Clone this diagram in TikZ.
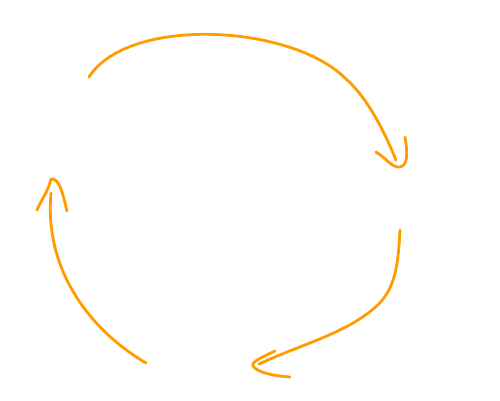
\documentclass[tikz,border=0pt]{standalone}
\usetikzlibrary{calc}
\definecolor{arcorange}{RGB}{255,157,0}
\tikzset{stroke/.style={draw=arcorange,line width=2.8pt,line cap=round,line join=round}}
\begin{document}
\begin{tikzpicture}[x=1pt,y=-1pt]
\useasboundingbox (0,0) rectangle (500,400);
% arc 1 (top)
\coordinate (a1s) at (89,77);
\coordinate (a1m) at (345,78);
\coordinate (a1e) at (396,160);
\draw[stroke] (a1s) .. controls (128,16) and (290,24) .. (a1m) .. controls (368,98) and (385,133) .. (a1e);
\coordinate (h1a) at (376,152);
\coordinate (h1b) at (400,167);
\coordinate (h1c) at (405,137);
\draw[stroke] (h1a) .. controls (386,158) and (392,168) .. (h1b) .. controls (409,165) and (407,150) .. (h1c);
% arc 2 (right bottom)
\coordinate (a2s) at (400,230);
\coordinate (a2m) at (372,310);
\coordinate (a2e) at (259,364);
\draw[stroke] (a2s) .. controls (398,268) and (395,292) .. (a2m) .. controls (343,334) and (300,345) .. (a2e);
\coordinate (h2a) at (275,351);
\coordinate (h2b) at (253,366);
\coordinate (h2c) at (290,377);
\draw[stroke] (h2a) .. controls (265,356) and (250,362) .. (h2b) .. controls (258,373) and (275,376) .. (h2c);
% arc 3 (left)
\coordinate (a3s) at (146,363);
\coordinate (a3e) at (51,193);
\draw[stroke] (a3s) .. controls (90,330) and (44,270) .. (a3e);
\coordinate (h3a) at (37,210);
\coordinate (h3b) at (51,179);
\coordinate (h3c) at (67,211);
\draw[stroke] (h3a) .. controls (42,198) and (48,192) .. (h3b) .. controls (60,178) and (63,195) .. (h3c);
\end{tikzpicture}
\end{document}
